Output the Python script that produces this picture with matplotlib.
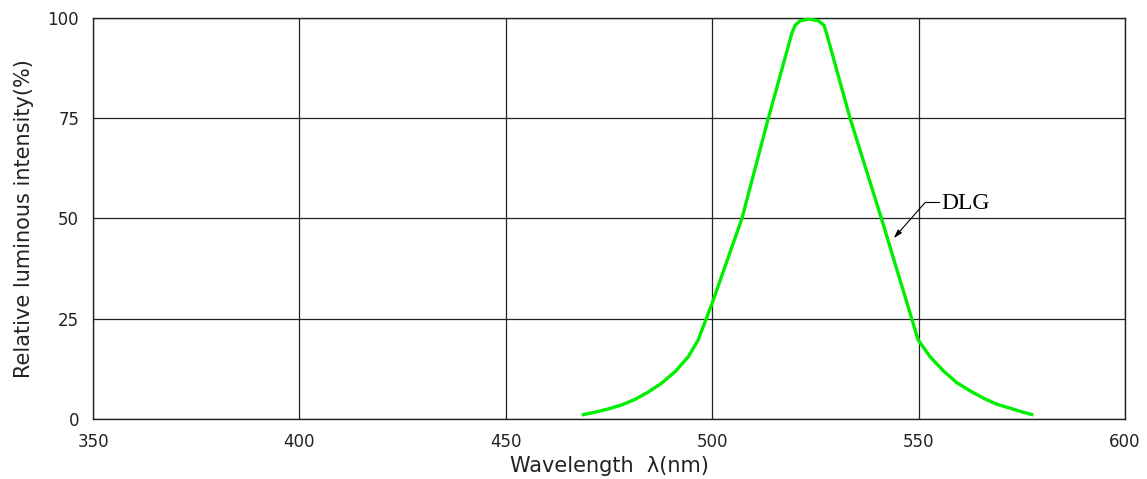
import matplotlib
matplotlib.use('Agg')
import matplotlib.pyplot as plt

# спектр зелёного светодиода DLG
wavelength = [468.4, 471.6, 474.8, 478.1, 481.3, 484.5, 487.7, 491.0, 494.2, 496.6,
              500.0, 507.2, 513.6,
              519.3, 520.1, 521.3, 523.5, 525.7, 527.1, 527.7,
              533.4, 541.0, 549.9,
              552.8, 556.0, 559.2, 562.5, 565.7, 568.9, 572.1, 575.3, 577.8]
intensity = [1.0, 1.7, 2.5, 3.5, 4.9, 6.7, 8.9, 11.8, 15.5, 19.7,
             28.9, 50.0, 75.0,
             96.2, 98.2, 99.3, 99.75, 99.3, 98.2, 96.2,
             75.0, 50.0, 19.7,
             15.5, 12.0, 9.1, 7.0, 5.2, 3.7, 2.7, 1.7, 1.0]
x_ticks = [350, 400, 450, 500, 550, 600]
y_ticks = [0, 25, 50, 75, 100]
label = 'DLG'
label_tip = (544.0, 45.1)     # куда указывает стрелка
label_elbow = (551.6, 54.0)   # излом выноски
label_pos = (555.6, 52.4)     # начало текста

fig = plt.figure(figsize=(11.47, 4.79), dpi=100)
ax = fig.add_axes([0.0811, 0.1253, 0.8997, 0.8371])

ax.plot(wavelength, intensity, color='#00ee00', lw=2.4,
        solid_joinstyle='round', solid_capstyle='butt', zorder=3)

ax.set_xlim(350, 600)
ax.set_ylim(0, 100)
ax.set_xticks(x_ticks)
ax.set_yticks(y_ticks)
ax.tick_params(length=0, labelsize=12, pad=10, colors='#222222')
ax.grid(True, color='#222222', lw=0.9)
for s in ax.spines.values():
    s.set_color('#222222')
    s.set_linewidth(1.0)

ax.set_xlabel('Wavelength  \u03bb(nm)', fontsize=15, color='#222222', labelpad=4)
ax.set_ylabel('Relative luminous intensity(%)', fontsize=15, color='#222222', labelpad=10)

# выноска с подписью
ax.plot([label_elbow[0], label_pos[0] - 0.7], [label_elbow[1], label_elbow[1]],
        color='black', lw=0.8, zorder=4)
ax.annotate('', xy=label_tip, xytext=label_elbow,
            arrowprops=dict(arrowstyle='-|>,head_length=0.5,head_width=0.15',
                            color='black', lw=0.8, shrinkA=0, shrinkB=0), zorder=4)
ax.text(label_pos[0], label_pos[1], label, fontsize=17, family='Liberation Serif',
        ha='left', va='baseline', color='black')

fig.savefig('out.png', dpi=100)
